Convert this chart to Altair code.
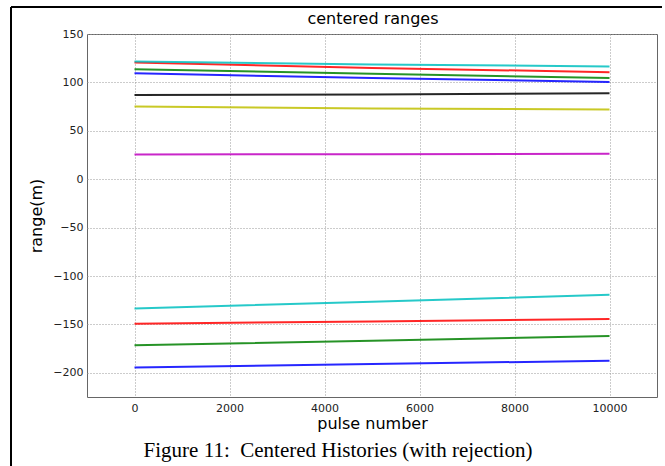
import altair as alt
import pandas as pd

# pulse positions at which each history is sampled
pulse = [0, 5000, 10000]

series_ids = ["b_top", "g_top", "r_top", "c_top", "m_top", "y_top", "k_top",
              "b_bot", "g_bot", "r_bot", "c_bot"]
series_colors = ["#0000ff", "#008000", "#ff0000", "#00bfbf", "#bf00bf", "#bfbf00", "#000000",
                 "#0000ff", "#008000", "#ff0000", "#00bfbf"]

# range (m) values read at pulse = 0, 5000, 10000
b_top = [109.5, 104.5, 100.5]
g_top = [113.5, 109.0, 104.5]
r_top = [120.5, 115.0, 110.5]
c_top = [121.5, 118.5, 116.5]
m_top = [25.5, 25.8, 26.2]
y_top = [75.0, 73.0, 72.0]
k_top = [87.0, 87.5, 88.7]
b_bot = [-194.5, -191.0, -187.5]
g_bot = [-171.5, -167.0, -162.0]
r_bot = [-149.2, -147.0, -144.5]
c_bot = [-133.5, -126.5, -119.4]

all_vals = [b_top, g_top, r_top, c_top, m_top, y_top, k_top, b_bot, g_bot, r_bot, c_bot]

x_ticks = [0, 2000, 4000, 6000, 8000, 10000]
y_ticks = [-200, -150, -100, -50, 0, 50, 100, 150]

title_text = "centered ranges"
caption_text = "Figure 11:\u00a0 Centered Histories (with rejection)"

rows = []
for sid, vals in zip(series_ids, all_vals):
    for p, v in zip(pulse, vals):
        rows.append({"series": sid, "pulse": p, "range": v})
df = pd.DataFrame(rows)

PLOT_W, PLOT_H = 570, 363

lines = alt.Chart(df).mark_line(strokeWidth=2, opacity=0.85).encode(
    x=alt.X("pulse:Q",
            scale=alt.Scale(domain=[-1000, 11000], nice=False, zero=False),
            axis=alt.Axis(values=x_ticks, title="pulse number", format="d")),
    y=alt.Y("range:Q",
            scale=alt.Scale(domain=[-225, 150], nice=False, zero=False),
            axis=alt.Axis(values=y_ticks, title="range(m)", format="d")),
    color=alt.Color("series:N",
                    scale=alt.Scale(domain=series_ids, range=series_colors),
                    legend=None),
    detail="series:N",
)

one = pd.DataFrame({"k": [0]})

top_border = alt.Chart(one).mark_rule(color="black", strokeWidth=2).encode(
    x=alt.value(-76), x2=alt.value(575), y=alt.value(-27)
)
left_border = alt.Chart(one).mark_rule(color="black", strokeWidth=2).encode(
    x=alt.value(-76), y=alt.value(-27), y2=alt.value(440)
)
title = alt.Chart(one).mark_text(
    text=title_text, font="DejaVu Sans", fontSize=16, color="black",
    align="center", baseline="alphabetic"
).encode(x=alt.value(286), y=alt.value(-10))
caption = alt.Chart(one).mark_text(
    text=caption_text,
    font="Liberation Serif", fontSize=21, color="black",
    align="center", baseline="alphabetic"
).encode(x=alt.value(251), y=alt.value(423))

chart = alt.layer(lines, top_border, left_border, title, caption).properties(
    width=PLOT_W, height=PLOT_H,
    autosize=alt.AutoSizeParams(type="none"),
    padding={"left": 87, "top": 34, "right": 8, "bottom": 69},
    background="white",
).configure_view(
    stroke="#666", strokeWidth=1
).configure_axis(
    domain=False, ticks=False,
    grid=True, gridColor="#999", gridDash=[1, 2], gridWidth=1,
    labelFont="DejaVu Sans", labelFontSize=11, labelColor="#222",
    titleFont="DejaVu Sans", titleFontSize=16, titleFontWeight="normal", titleColor="black",
).configure_axisX(
    labelPadding=5, titlePadding=2
).configure_axisY(
    labelPadding=4, titlePadding=8
)

chart.save("out.html", embed_options={"renderer": "svg", "actions": False})
